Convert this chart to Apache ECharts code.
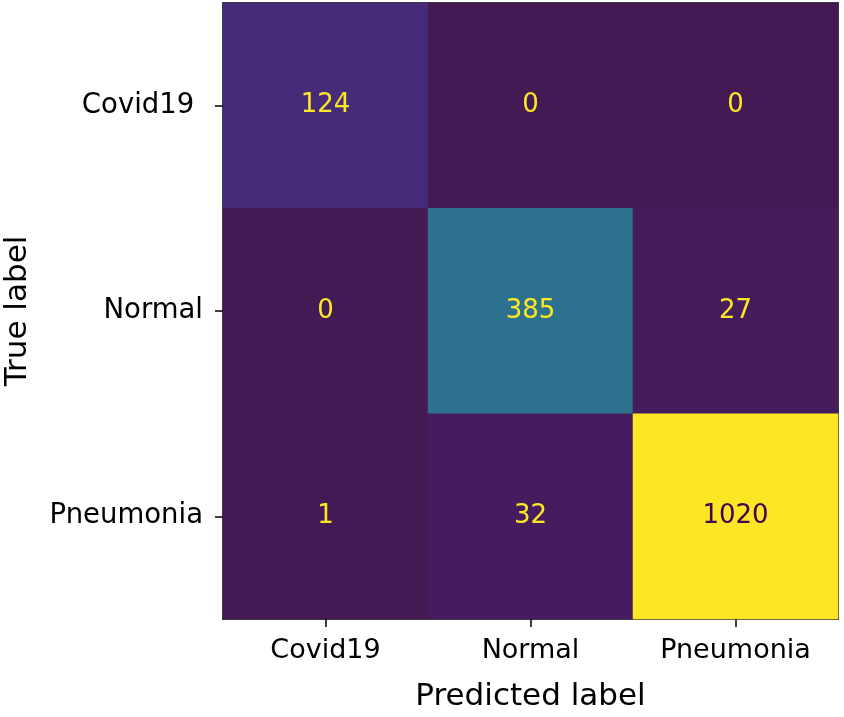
<!DOCTYPE html>
<html>
<head>
<meta charset="utf-8">
<script src="https://cdn.jsdelivr.net/npm/echarts@6/dist/echarts.min.js"></script>
<style>html,body{margin:0;padding:0;background:#fff;}#c{width:844px;height:717px;}</style>
</head>
<body>
<div id="c"></div>
<script>
var predictedLabels = ['Covid19', 'Normal', 'Pneumonia'];
var trueLabels = ['Covid19 ', 'Normal', 'Pneumonia'];
// rows = true label, columns = predicted label
var rowCovid19 = [124, 0, 0];
var rowNormal = [0, 385, 27];
var rowPneumonia = [1, 32, 1020];
var matrix = [rowCovid19, rowNormal, rowPneumonia];

var viridis = ['#441a55','#482475','#414487','#355f8d','#2a788e','#21918c','#22a884','#44bf70','#7ad151','#bddf26','#fde725'];

var data = [];
var maxV = 0;
matrix.forEach(function(r){ r.forEach(function(v){ if (v > maxV) maxV = v; }); });
matrix.forEach(function(row, yi){
  row.forEach(function(v, xi){
    data.push({value:[xi, yi, v], label:{color: v > maxV/2 ? '#440154' : '#fde725'}});
  });
});

var font = 'DejaVu Sans';
var chart = echarts.init(document.getElementById('c'));
chart.setOption({
  animation:false,
  backgroundColor:'#fff',
  grid:{left:223, top:3, width:615, height:616, containLabel:false, outerBoundsMode:'none'},
  xAxis:[{
    type:'category', data:predictedLabels, position:'bottom',
    name:'Predicted label', nameLocation:'middle', nameGap:62,
    nameTextStyle:{fontFamily:font, fontSize:31, color:'#000'},
    axisLine:{show:true, lineStyle:{color:'#000', width:1.5}},
    axisTick:{show:true, alignWithLabel:true, length:8, lineStyle:{color:'#000', width:1.5}},
    axisLabel:{fontFamily:font, fontSize:27, color:'#000', margin:18},
    splitLine:{show:false}
  },{
    type:'category', data:predictedLabels, position:'top',
    axisLine:{show:true, lineStyle:{color:'#000', width:1.5}},
    axisTick:{show:false}, axisLabel:{show:false}
  }],
  yAxis:[{
    type:'category', data:trueLabels, inverse:true, position:'left',
    name:'True label', nameLocation:'middle', nameGap:190,
    nameTextStyle:{fontFamily:font, fontSize:31, color:'#000'},
    axisLine:{show:true, lineStyle:{color:'#000', width:1.5}},
    axisTick:{show:true, alignWithLabel:true, length:8, lineStyle:{color:'#000', width:1.5}},
    axisLabel:{fontFamily:font, fontSize:27.5, color:'#000', margin:20},
    splitLine:{show:false}
  },{
    type:'category', data:trueLabels, inverse:true, position:'right',
    axisLine:{show:true, lineStyle:{color:'#000', width:1.5}},
    axisTick:{show:false}, axisLabel:{show:false}
  }],
  visualMap:{show:false, min:0, max:maxV, dimension:2, inRange:{color:viridis}},
  series:[{
    type:'heatmap', data:data, z:1,
    label:{show:true, fontFamily:font, fontSize:26},
    itemStyle:{borderWidth:0}
  }]
});
</script>
</body>
</html>
